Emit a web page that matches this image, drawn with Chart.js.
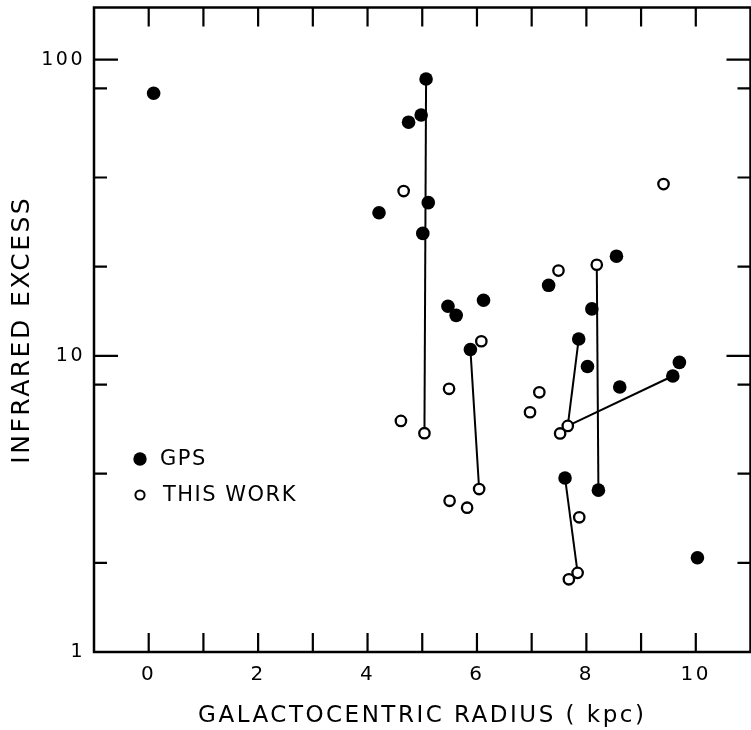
<!DOCTYPE html>
<html>
<head>
<meta charset="utf-8">
<title>Infrared excess vs galactocentric radius</title>
<script src="https://cdn.jsdelivr.net/npm/chart.js@4"></script>
<style>
  html, body { margin: 0; padding: 0; background: #fff; overflow: hidden; }
  #wrap { width: 758px; height: 730px; }
</style>
</head>
<body>
<div id="wrap"><canvas id="excessChart" width="758" height="730"></canvas></div>
<script>
// GPS sources (filled circles): radius in kpc, infrared excess
const gpsRadius = [0.09, 5.07, 4.75, 4.98, 5.11, 4.21, 5.01, 5.47, 5.62, 6.12, 5.88,
                   7.31, 8.55, 8.10, 7.86, 8.02, 9.70, 9.58, 8.61, 8.22, 7.61, 10.03];
const gpsExcess = [77, 86, 61.5, 65, 32.9, 30.4, 25.9, 14.7, 13.7, 15.4, 10.5,
                   17.3, 21.7, 14.4, 11.4, 9.2, 9.5, 8.55, 7.85, 3.52, 3.87, 2.08];

// this work (open circles)
const newRadius = [4.66, 5.49, 4.61, 5.04, 6.08, 6.04, 5.82, 5.50, 7.14, 6.97,
                   9.41, 8.19, 7.49, 7.66, 7.52, 7.87, 7.84, 7.68];
const newExcess = [36, 7.74, 6.03, 5.48, 11.2, 3.55, 3.07, 3.24, 7.53, 6.45,
                   38, 20.3, 19.4, 5.80, 5.47, 2.85, 1.85, 1.76];

// same object measured twice: [r1, excess1, r2, excess2]
const pairs = [
    [5.07, 86, 5.04, 5.48],
    [5.88, 10.5, 6.04, 3.55],
    [7.86, 11.4, 7.66, 5.80],
    [8.19, 20.3, 8.22, 3.52],
    [7.66, 5.80, 9.58, 8.55],
    [7.61, 3.87, 7.84, 1.85]
];

// axis ticks
const xLabelTicks = [0, 2, 4, 6, 8, 10];
const xMinorTicks = [0, 1, 2, 3, 4, 5, 6, 7, 8, 9, 10];
const yMajorTicks = [1, 10, 100];
const yMinorTicks = [2, 4, 8, 20, 40, 80];

const FONT = '"DejaVu Sans", "Liberation Sans", sans-serif';

const toPoints = (xs, ys) => xs.map((x, i) => ({ x: x, y: ys[i] }));

const pairDatasets = pairs.map(p => ({
    type: 'line',
    data: [{ x: p[0], y: p[1] }, { x: p[2], y: p[3] }],
    borderColor: '#000',
    borderWidth: 2,
    pointRadius: 0,
    fill: false,
    order: 3
}));

// frame, inward ticks and the in-plot key
const framePlugin = {
    id: 'frame',
    beforeDraw(chart) {
        chart.ctx.letterSpacing = '2.5px';
    },
    afterDraw(chart) {
        const ctx = chart.ctx;
        const a = chart.chartArea;
        const xs = chart.scales.x;
        const ys = chart.scales.y;
        ctx.save();
        ctx.strokeStyle = '#000';
        ctx.lineWidth = 2.5;
        ctx.strokeRect(a.left, a.top, a.right - a.left, a.bottom - a.top);

        ctx.lineWidth = 2.2;
        ctx.beginPath();
        xMinorTicks.forEach(v => {
            const px = xs.getPixelForValue(v);
            ctx.moveTo(px, a.bottom);
            ctx.lineTo(px, a.bottom - 19);
            ctx.moveTo(px, a.top);
            ctx.lineTo(px, a.top + 19);
        });
        yMajorTicks.concat(yMinorTicks).forEach(v => {
            const py = ys.getPixelForValue(v);
            const len = yMajorTicks.includes(v) ? 24 : 13;
            ctx.moveTo(a.left, py);
            ctx.lineTo(a.left + len, py);
            ctx.moveTo(a.right, py);
            ctx.lineTo(a.right - len, py);
        });
        ctx.stroke();

        // key
        ctx.fillStyle = '#000';
        ctx.beginPath();
        ctx.arc(140, 459, 6.7, 0, Math.PI * 2);
        ctx.fill();
        ctx.lineWidth = 2;
        ctx.beginPath();
        ctx.arc(140, 495, 4.6, 0, Math.PI * 2);
        ctx.stroke();
        ctx.font = '21px ' + FONT;
        ctx.letterSpacing = '1.5px';
        ctx.textBaseline = 'middle';
        ctx.textAlign = 'left';
        ctx.fillText('GPS', 160, 460);
        ctx.fillText('THIS WORK', 163, 496);
        ctx.restore();
    }
};

new Chart(document.getElementById('excessChart'), {
    type: 'scatter',
    data: {
        datasets: [{
            label: 'GPS',
            data: toPoints(gpsRadius, gpsExcess),
            backgroundColor: '#000',
            borderColor: '#000',
            borderWidth: 0,
            pointRadius: 6.8,
            order: 1
        }, {
            label: 'THIS WORK',
            data: toPoints(newRadius, newExcess),
            backgroundColor: '#fff',
            borderColor: '#000',
            borderWidth: 2.3,
            pointRadius: 5.2,
            order: 2
        }].concat(pairDatasets)
    },
    options: {
        responsive: false,
        animation: false,
        layout: { padding: { top: 6, right: 1, left: 0, bottom: 0 } },
        plugins: {
            legend: { display: false },
            tooltip: { enabled: false }
        },
        scales: {
            x: {
                type: 'linear',
                min: -1,
                max: 11,
                grid: { display: false, drawTicks: false },
                border: { display: false },
                afterBuildTicks: scale => {
                    scale.ticks = xLabelTicks.map(v => ({ value: v }));
                },
                afterFit: scale => {
                    scale.height = 78;
                    scale.paddingLeft = 0;
                    scale.paddingRight = 0;
                },
                ticks: {
                    color: '#000',
                    padding: 11,
                    maxRotation: 0,
                    font: { family: FONT, size: 20 }
                },
                title: {
                    display: true,
                    text: 'GALACTOCENTRIC RADIUS ( kpc)',
                    color: '#000',
                    padding: { top: 0, bottom: 0 },
                    font: { family: FONT, size: 23 }
                }
            },
            y: {
                type: 'logarithmic',
                min: 1,
                max: 150,
                grid: { display: false, drawTicks: false },
                border: { display: false },
                afterBuildTicks: scale => {
                    scale.ticks = yMajorTicks.map(v => ({ value: v }));
                },
                afterFit: scale => {
                    scale.width = 94;
                    scale.paddingTop = 0;
                    scale.paddingBottom = 0;
                },
                ticks: {
                    color: '#000',
                    padding: 9,
                    callback: v => String(v),
                    font: { family: FONT, size: 19 }
                },
                title: {
                    display: true,
                    text: 'INFRARED EXCESS',
                    color: '#000',
                    padding: { top: 7, bottom: 0 },
                    font: { family: FONT, size: 25 }
                }
            }
        }
    },
    plugins: [framePlugin]
});
</script>
</body>
</html>
